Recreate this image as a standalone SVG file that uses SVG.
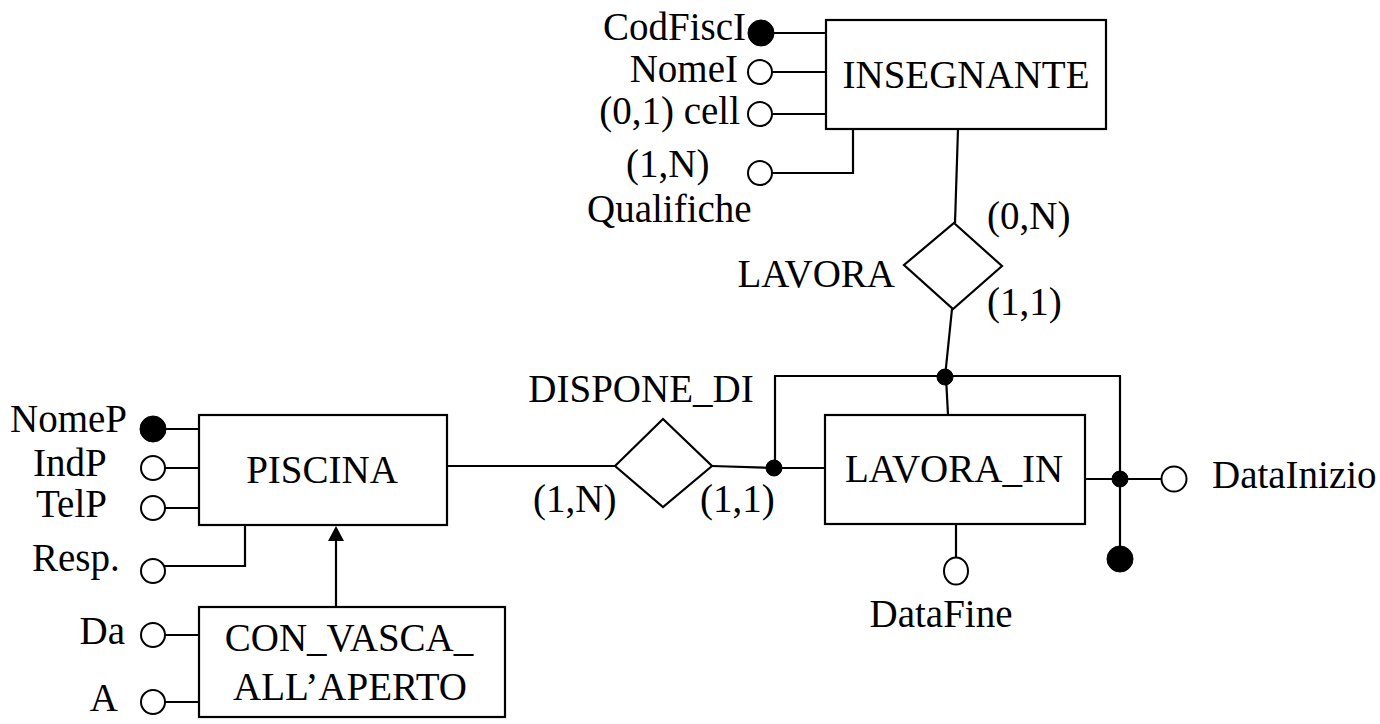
<svg xmlns="http://www.w3.org/2000/svg" width="1380" height="724" viewBox="0 0 1380 724">
<style>
text{font-family:"Liberation Serif","Times New Roman",serif;font-size:39px;fill:#000}
.m{text-anchor:middle}
.e{text-anchor:end}
.box{fill:#fff;stroke:#000;stroke-width:2.2}
.ln{fill:none;stroke:#000;stroke-width:2.2}
.oc{fill:#fff;stroke:#000;stroke-width:2}
.fc{fill:#000;stroke:#000;stroke-width:1}
</style>
<rect width="1380" height="724" fill="#fff"/>
<g id="connectors">
<line class="ln" x1="958" y1="129" x2="955" y2="223"/>
<line class="ln" x1="952" y1="309" x2="945" y2="377"/>
<polyline class="ln" points="775,468 775,376 1120,376 1120,548"/>
<line class="ln" x1="946" y1="377" x2="948" y2="415"/>
<line class="ln" x1="447" y1="466" x2="615" y2="466"/>
<polyline class="ln" points="712,466 775,468 825,468"/>
<circle class="fc" cx="945" cy="377" r="8"/>
<circle class="fc" cx="774" cy="468" r="8"/>
<line class="ln" x1="336" y1="607" x2="336" y2="538"/>
<polygon points="336,526 328,541 344,541" fill="#000"/>
</g>
<g id="INSEGNANTE">
<rect class="box" x="826" y="20" width="280" height="109"/>
<text class="m" x="966" y="88">INSEGNANTE</text>
</g>
<g id="attr-CodFiscI">
<line class="ln" x1="772" y1="33" x2="826" y2="33"/>
<text x="603" y="40">CodFiscI</text>
<circle class="fc" cx="761" cy="33" r="13"/>
</g>
<g id="attr-NomeI">
<line class="ln" x1="772" y1="72" x2="826" y2="72"/>
<circle class="oc" cx="760" cy="72" r="12"/>
<text class="e" x="738" y="82">NomeI</text>
</g>
<g id="attr-cell">
<line class="ln" x1="772" y1="114" x2="826" y2="114"/>
<circle class="oc" cx="760" cy="114" r="12"/>
<text class="e" x="740" y="124">(0,1) cell</text>
</g>
<g id="attr-Qualifiche">
<polyline class="ln" points="772,173 853,173 853,129"/>
<circle class="oc" cx="760" cy="173" r="12"/>
<text x="626" y="177">(1,N)</text>
<text x="587" y="222">Qualifiche</text>
</g>
<g id="LAVORA">
<polygon class="box" points="954,223 1002,266 953,309 904,265"/>
<text class="e" x="895" y="287">LAVORA</text>
<text x="987" y="229">(0,N)</text>
<text x="987" y="315">(1,1)</text>
</g>
<g id="LAVORA_IN">
<rect class="box" x="825" y="415" width="260" height="109"/>
<text class="m" x="954" y="482">LAVORA_IN</text>
</g>
<g id="attr-DataInizio">
<line class="ln" x1="1085" y1="479" x2="1162" y2="479"/>
<circle class="fc" cx="1120" cy="479" r="8"/>
<circle class="oc" cx="1174" cy="479" r="12.5"/>
<text x="1212" y="488">DataInizio</text>
</g>
<g id="identifier-LAVORA_IN">
<circle class="fc" cx="1120" cy="559" r="13"/>
</g>
<g id="attr-DataFine">
<line class="ln" x1="956" y1="524" x2="956" y2="558"/>
<ellipse class="oc" cx="956" cy="571" rx="12" ry="13.5"/>
<text class="m" x="941" y="627">DataFine</text>
</g>
<g id="DISPONE_DI">
<polygon class="box" points="615,466 663,419 712,466 663,507"/>
<text class="m" x="641" y="402">DISPONE_DI</text>
<text x="533" y="512">(1,N)</text>
<text x="700" y="512">(1,1)</text>
</g>
<g id="PISCINA">
<rect class="box" x="199" y="415" width="248" height="110"/>
<text class="m" x="322" y="483">PISCINA</text>
</g>
<g id="attr-NomeP">
<line class="ln" x1="165" y1="429" x2="199" y2="429"/>
<circle class="fc" cx="153" cy="429" r="13"/>
<text class="e" x="127" y="432">NomeP</text>
</g>
<g id="attr-IndP">
<line class="ln" x1="165" y1="468" x2="199" y2="468"/>
<circle class="oc" cx="153" cy="468" r="12"/>
<text x="33" y="476">IndP</text>
</g>
<g id="attr-TelP">
<line class="ln" x1="165" y1="508" x2="199" y2="508"/>
<circle class="oc" cx="153" cy="508" r="12"/>
<text x="36" y="517">TelP</text>
</g>
<g id="attr-Resp">
<polyline class="ln" points="163,566 245,566 245,525"/>
<circle class="oc" cx="153" cy="571" r="12"/>
<text x="32" y="571">Resp.</text>
</g>
<g id="CON_VASCA_ALL_APERTO">
<rect class="box" x="199" y="607" width="306" height="110"/>
<text class="m" x="349" y="651">CON_VASCA_</text>
<text class="m" x="350" y="700">ALL’APERTO</text>
</g>
<g id="attr-Da">
<line class="ln" x1="165" y1="635" x2="199" y2="635"/>
<circle class="oc" cx="153" cy="635" r="12"/>
<text class="e" x="125" y="644">Da</text>
</g>
<g id="attr-A">
<line class="ln" x1="165" y1="702" x2="199" y2="702"/>
<circle class="oc" cx="153" cy="702" r="12"/>
<text class="e" x="118" y="711">A</text>
</g>
</svg>
